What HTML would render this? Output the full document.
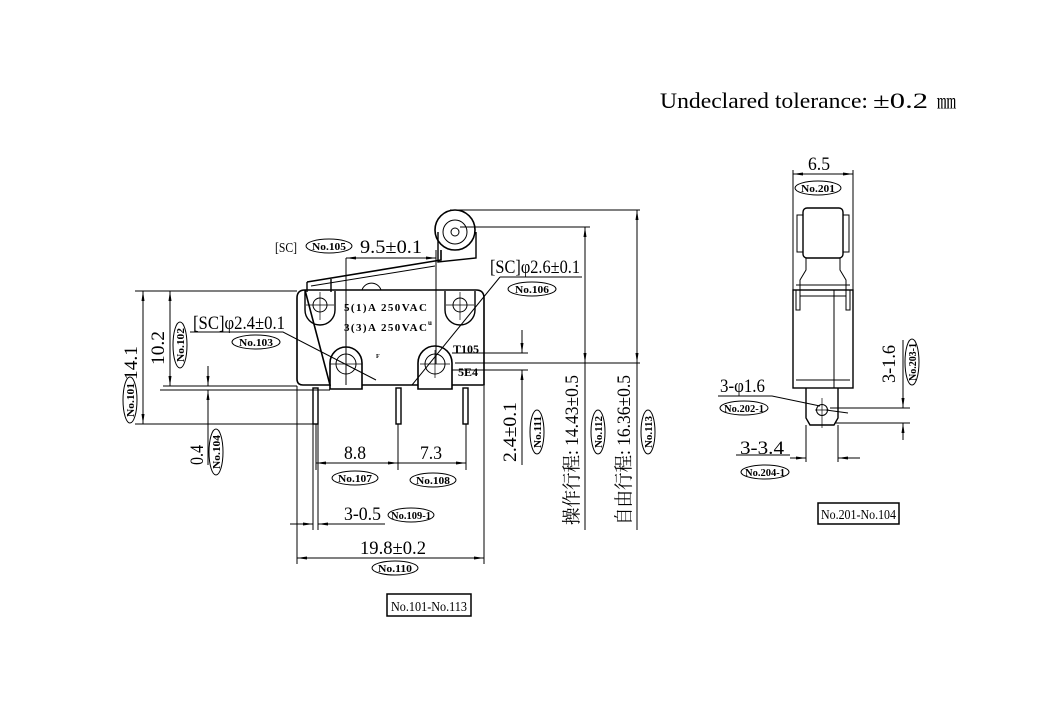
<!DOCTYPE html>
<html><head><meta charset="utf-8"><style>
html,body{margin:0;padding:0;background:#fff;}
svg{display:block}
text{font-family:"Liberation Serif","Noto Serif CJK SC",serif;fill:#000}
.d{font-size:19px}
.o{font-size:11px;font-weight:bold}
</style></head><body>
<svg width="1051" height="719" viewBox="0 0 1051 719" xmlns="http://www.w3.org/2000/svg">
<defs>
<marker id="a" viewBox="0 0 10 6" refX="10" refY="3" markerWidth="10" markerHeight="6" orient="auto-start-reverse" markerUnits="userSpaceOnUse"><path d="M0,1.5 L10,3 L0,4.5z" fill="#000"/></marker>
</defs>
<text x="660" y="108" style="font-size:22px" textLength="208" lengthAdjust="spacingAndGlyphs">Undeclared tolerance:</text>
<text x="873" y="108" style="font-size:22px" textLength="55" lengthAdjust="spacingAndGlyphs">±0.2</text>
<text x="937" y="108" style="font-size:19px">㎜</text>

<g fill="none" stroke="#000" stroke-width="1">
<path d="M305,290 H476 Q484,290 484,298 V385 H452 M418,385 H362 M330,385 H303 Q297,385 297,379 V298 Q297,290 305,290 Z" stroke-width="1.6"/>
<path d="M305,291 V310 A15,15 0 0 0 335,310 V291" stroke-width="1.4"/>
<circle cx="320" cy="305" r="7"/>
<path d="M445,291 V310 A15,15 0 0 0 475,310 V291" stroke-width="1.4"/>
<circle cx="460" cy="305" r="7"/>
<path d="M330,389 V363 A16,16 0 0 1 362,363 V389 Z" stroke-width="1.6"/>
<circle cx="346" cy="364" r="10"/>
<path d="M418,389 V363 A17,17 0 0 1 452,363 V389 Z" stroke-width="1.6"/>
<circle cx="435" cy="364" r="10"/>
<rect x="313" y="388" width="5" height="36" stroke-width="1.4"/>
<rect x="396" y="388" width="5" height="36" stroke-width="1.4"/>
<rect x="463" y="388" width="5" height="36" stroke-width="1.4"/>
<path d="M307,282 L441,260 L441,250" stroke-width="1.6"/>
<path d="M307,282 V292 M331,279 V292" stroke-width="1.4"/>
<path d="M311,286 L435,266"/>
<path d="M362,290 A10,10 0 0 1 381,290"/>
<circle cx="455" cy="230" r="20" stroke-width="1.6"/>
<circle cx="455" cy="232" r="12"/>
<circle cx="455" cy="232" r="4"/>
<path d="M438,232 V262 L476,258 V232" stroke-width="1.4"/>
<path d="M306,305 H334 M320,292 V320 M446,305 H474 M460,292 V320 M330,364 H362 M346,350 V378 M420,364 H450 M435,350 V378" stroke-width="0.7"/>
<path d="M135,291 H297 M135,424 H313 M163,386 H297 M160,390 H330 M346,258 V385 M436,250 V364 M450,210 H640 M460,227 H590 M455,363 H640 M452,353 H528 M452,370 H528"/>
<path d="M316,424 V470 M398,424 V470 M466,424 V470 M313,424 V530 M318,424 V530 M297,386 V564 M484,386 V564"/>
<path d="M143,291 V424" marker-start="url(#a)" marker-end="url(#a)"/>
<path d="M170,291 V386" marker-start="url(#a)" marker-end="url(#a)"/>
<path d="M208,366 V386" marker-end="url(#a)"/><path d="M208,465 V390" marker-end="url(#a)"/>
<path d="M346,258 H436" marker-start="url(#a)" marker-end="url(#a)"/>
<path d="M316,463 H398" marker-start="url(#a)" marker-end="url(#a)"/>
<path d="M398,463 H466" marker-end="url(#a)"/>
<path d="M290,524 H313" marker-end="url(#a)"/><path d="M340,524 H318" marker-end="url(#a)"/><path d="M340,524 H385"/>
<path d="M297,558 H484" marker-start="url(#a)" marker-end="url(#a)"/>
<path d="M522,330 V353" marker-end="url(#a)"/><path d="M522,465 V370" marker-end="url(#a)"/>
<path d="M585,227 V363" marker-start="url(#a)" marker-end="url(#a)"/>
<path d="M637,210 V363" marker-start="url(#a)" marker-end="url(#a)"/>
<path d="M585,363 V530 M637,363 V530"/>
<path d="M190,332 H283 L376,380"/>
<path d="M500,277 H582 M500,277 L412,385"/>
<path d="M793,170 V290 M853,170 V290"/>
<path d="M793,174 H853" marker-start="url(#a)" marker-end="url(#a)"/>
<rect x="803" y="208" width="40" height="50" rx="4" stroke-width="1.4"/>
<path d="M803,215 H797 V252 H803 M843,215 H849 V252 H843"/>
<path d="M806,258 V270 L800,280 V290 M840,258 V270 L846,280 V290"/>
<path d="M796,285 H850 M793,290 H853 M800,290 V296 H846 V290"/>
<rect x="793" y="290" width="60" height="98" stroke-width="1.4"/>
<path d="M796,290 V310 H800 V290 M850,290 V310 H846 V290 M834,290 V388 M796,380 H850"/>
<path d="M806,388 V418 L810,425 H834 L838,418 V388" stroke-width="1.4"/>
<circle cx="822" cy="410" r="5.5"/>
<path d="M815,410 H829 M822,398 V428" stroke-width="0.7"/>
<path d="M718,396 H772 L820,406"/><path d="M848,413 L826,410"/>
<path d="M806,425 V462 M838,425 V462 M830,408 H910 M835,423 H910"/>
<path d="M790,458 H806" marker-end="url(#a)"/><path d="M860,458 H838" marker-end="url(#a)"/>
<path d="M903,340 V408" marker-end="url(#a)"/><path d="M903,440 V423" marker-end="url(#a)"/>
<path d="M736,455 H790"/>
</g>

<rect x="387" y="594" width="84" height="22" fill="none" stroke="#000" stroke-width="1.5"/>
<text x="391" y="611" style="font-size:14px" textLength="76" lengthAdjust="spacingAndGlyphs">No.101-No.113</text>
<rect x="818" y="503" width="81" height="21" fill="none" stroke="#000" stroke-width="1.5"/>
<text x="821" y="519" style="font-size:14px" textLength="75" lengthAdjust="spacingAndGlyphs">No.201-No.104</text>

<g class="d">
<text x="360" y="253" textLength="62" lengthAdjust="spacingAndGlyphs">9.5±0.1</text>
<text x="193" y="329" textLength="92" lengthAdjust="spacingAndGlyphs">[SC]φ2.4±0.1</text>
<text x="490" y="273" textLength="90" lengthAdjust="spacingAndGlyphs">[SC]φ2.6±0.1</text>
<text x="275" y="252" style="font-size:14px" textLength="22" lengthAdjust="spacingAndGlyphs">[SC]</text>
<text x="344" y="459" textLength="22" lengthAdjust="spacingAndGlyphs">8.8</text>
<text x="420" y="459" textLength="22" lengthAdjust="spacingAndGlyphs">7.3</text>
<text x="344" y="520" textLength="37" lengthAdjust="spacingAndGlyphs">3-0.5</text>
<text x="360" y="554" textLength="66" lengthAdjust="spacingAndGlyphs">19.8±0.2</text>
<text x="808" y="170" textLength="22" lengthAdjust="spacingAndGlyphs">6.5</text>
<text x="720" y="392" textLength="45" lengthAdjust="spacingAndGlyphs">3-φ1.6</text>
<text x="740" y="454" textLength="44" lengthAdjust="spacingAndGlyphs">3-3.4</text>
<text transform="translate(137,380) rotate(-90)" textLength="34" lengthAdjust="spacingAndGlyphs">14.1</text>
<text transform="translate(164,365) rotate(-90)" textLength="34" lengthAdjust="spacingAndGlyphs">10.2</text>
<text transform="translate(203,465) rotate(-90)" textLength="20" lengthAdjust="spacingAndGlyphs">0.4</text>
<text transform="translate(516,462) rotate(-90)" textLength="60" lengthAdjust="spacingAndGlyphs">2.4±0.1</text>
<text transform="translate(578,525) rotate(-90)" textLength="150" lengthAdjust="spacingAndGlyphs">操作行程: 14.43±0.5</text>
<text transform="translate(630,525) rotate(-90)" textLength="150" lengthAdjust="spacingAndGlyphs">自由行程: 16.36±0.5</text>
<text transform="translate(895,383) rotate(-90)" textLength="38" lengthAdjust="spacingAndGlyphs">3-1.6</text>
</g>
<g style="font-family:'Liberation Sans',sans-serif;font-size:11px;font-weight:bold">
<text x="344" y="311" textLength="83" lengthAdjust="spacing">5(1)A 250VAC</text>
<text x="344" y="331" textLength="83" lengthAdjust="spacing">3(3)A 250VAC</text>
<text x="428" y="325" style="font-size:7px">u</text>
<text x="376" y="358" style="font-size:6px">F</text>
<text x="453" y="353" style="font-size:12px">T105</text>
<text x="458" y="376" style="font-size:12px">5E4</text>
</g>

<g fill="none" stroke="#000" stroke-width="1">
<ellipse cx="329" cy="246" rx="23" ry="7"/>
<ellipse cx="256" cy="342" rx="24" ry="7"/>
<ellipse cx="532" cy="289" rx="24" ry="7"/>
<ellipse cx="355" cy="478" rx="23" ry="7"/>
<ellipse cx="433" cy="480" rx="23" ry="7"/>
<ellipse cx="411" cy="515" rx="23" ry="7"/>
<ellipse cx="395" cy="568" rx="23" ry="7"/>
<ellipse cx="818" cy="188" rx="23" ry="7"/>
<ellipse cx="744" cy="408" rx="24" ry="7"/>
<ellipse cx="765" cy="472" rx="24" ry="7"/>
<ellipse cx="130" cy="400" rx="7" ry="23"/>
<ellipse cx="180" cy="345" rx="7" ry="23"/>
<ellipse cx="216" cy="452" rx="7" ry="23"/>
<ellipse cx="537" cy="432" rx="7" ry="22"/>
<ellipse cx="598" cy="432" rx="7" ry="22"/>
<ellipse cx="648" cy="432" rx="7" ry="22"/>
<ellipse cx="912" cy="362" rx="7" ry="23"/>
</g>
<g class="o" text-anchor="middle">
<text x="329" y="250" textLength="34" lengthAdjust="spacingAndGlyphs">No.105</text>
<text x="256" y="346" textLength="34" lengthAdjust="spacingAndGlyphs">No.103</text>
<text x="532" y="293" textLength="34" lengthAdjust="spacingAndGlyphs">No.106</text>
<text x="355" y="482" textLength="34" lengthAdjust="spacingAndGlyphs">No.107</text>
<text x="433" y="484" textLength="34" lengthAdjust="spacingAndGlyphs">No.108</text>
<text x="411" y="519" textLength="40" lengthAdjust="spacingAndGlyphs">No.109-1</text>
<text x="395" y="572" textLength="34" lengthAdjust="spacingAndGlyphs">No.110</text>
<text x="818" y="192" textLength="34" lengthAdjust="spacingAndGlyphs">No.201</text>
<text x="744" y="412" textLength="40" lengthAdjust="spacingAndGlyphs">No.202-1</text>
<text x="765" y="476" textLength="40" lengthAdjust="spacingAndGlyphs">No.204-1</text>
<text transform="translate(134,400) rotate(-90)" textLength="34" lengthAdjust="spacingAndGlyphs">No.101</text>
<text transform="translate(184,345) rotate(-90)" textLength="34" lengthAdjust="spacingAndGlyphs">No.102</text>
<text transform="translate(220,452) rotate(-90)" textLength="34" lengthAdjust="spacingAndGlyphs">No.104</text>
<text transform="translate(541,432) rotate(-90)" textLength="32" lengthAdjust="spacingAndGlyphs">No.111</text>
<text transform="translate(602,432) rotate(-90)" textLength="32" lengthAdjust="spacingAndGlyphs">No.112</text>
<text transform="translate(652,432) rotate(-90)" textLength="32" lengthAdjust="spacingAndGlyphs">No.113</text>
<text transform="translate(916,362) rotate(-90)" textLength="38" lengthAdjust="spacingAndGlyphs">No.203-1</text>
</g>
</svg>
</body></html>
